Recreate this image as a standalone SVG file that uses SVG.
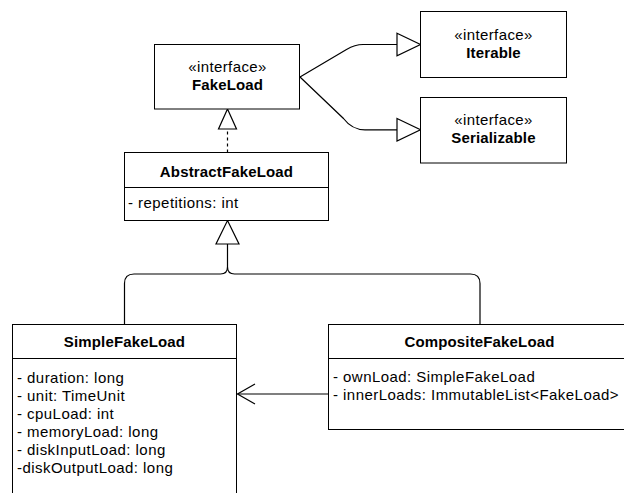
<svg xmlns="http://www.w3.org/2000/svg" width="624" height="493" viewBox="0 0 624 493">
  <style>
    .box { fill: #ffffff; stroke: #000000; stroke-width: 1; }
    .sep { stroke: #000000; stroke-width: 1; fill: none; }
    .edge { fill: none; stroke: #000000; stroke-width: 1.2; }
    .dash { fill: none; stroke: #000000; stroke-width: 1.2; stroke-dasharray: 3 3; }
    .tri { fill: #ffffff; stroke: #000000; stroke-width: 1.2; stroke-linejoin: miter; }
    text { font-family: "Liberation Sans", Arial, Helvetica, sans-serif; font-size: 15px; fill: #000000; }
    .c { text-anchor: middle; }
    .b { font-weight: bold; letter-spacing: 0.15px; }
    .st { letter-spacing: 0.4px; }
    .attr { letter-spacing: 0.45px; }
  </style>
  <rect x="0" y="0" width="624" height="493" fill="#ffffff"/>

  <g id="connectors">
    <!-- FakeLoad -> Iterable -->
    <path class="edge" d="M300,77 L346.5,49.5 Q355,44.5 363,44.5 H397"/>
    <polygon class="tri" points="397,33.3 420.5,44.5 397,55.7"/>
    <!-- FakeLoad -> Serializable -->
    <path class="edge" d="M300,77 L343.5,118.5 Q352,129.8 365,129.8 H397"/>
    <polygon class="tri" points="397,118.5 420.5,129.8 397,141"/>
    <!-- AbstractFakeLoad realizes FakeLoad -->
    <path class="dash" d="M227.5,152.5 V129"/>
    <polygon class="tri" points="227.5,109 236.5,129 218.5,129"/>
    <!-- Inheritance to AbstractFakeLoad -->
    <path class="edge" d="M227.5,244 V267 Q227.5,274 220.5,274 H134 Q124.5,274 124.5,283.5 V324.5"/>
    <path class="edge" d="M227.5,267 Q227.5,274 234.5,274 H470.5 Q480,274 480,283.5 V324.5"/>
    <polygon class="tri" points="227.5,220.5 239,244 216,244"/>
    <!-- Composite -> Simple association -->
    <path class="edge" d="M328.5,394 H237.5"/>
    <path class="edge" d="M255,384 L237.5,394 L255,404"/>
  </g>

  <g id="FakeLoad">
    <rect class="box" x="154.5" y="44.5" width="145" height="64.5"/>
    <text class="c st" x="227.5" y="72">«interface»</text>
    <text class="c b" x="227.5" y="90">FakeLoad</text>
  </g>

  <g id="Iterable">
    <rect class="box" x="420.5" y="11.5" width="146" height="66"/>
    <text class="c st" x="493.5" y="40">«interface»</text>
    <text class="c b" x="493.5" y="58">Iterable</text>
  </g>

  <g id="Serializable">
    <rect class="box" x="420.5" y="97.5" width="146" height="65.5"/>
    <text class="c st" x="493.5" y="125">«interface»</text>
    <text class="c b" x="493.5" y="143">Serializable</text>
  </g>

  <g id="AbstractFakeLoad">
    <rect class="box" x="124.5" y="152.5" width="204" height="68"/>
    <line class="sep" x1="124.5" y1="187.5" x2="328.5" y2="187.5"/>
    <text class="c b" x="226.5" y="177">AbstractFakeLoad</text>
    <text class="attr" x="128" y="208">- repetitions: int</text>
  </g>

  <g id="SimpleFakeLoad">
    <rect class="box" x="12.5" y="324.5" width="224" height="200"/>
    <line class="sep" x1="12.5" y1="358.5" x2="236.5" y2="358.5"/>
    <text class="c b" x="124.5" y="347">SimpleFakeLoad</text>
    <text class="attr" x="17" y="382.5">- duration: long</text>
    <text class="attr" x="17" y="400.5">- unit: TimeUnit</text>
    <text class="attr" x="17" y="418.5">- cpuLoad: int</text>
    <text class="attr" x="17" y="436.5">- memoryLoad: long</text>
    <text class="attr" x="17" y="454.5">- diskInputLoad: long</text>
    <text class="attr" x="17" y="472.5">-diskOutputLoad: long</text>
  </g>

  <g id="CompositeFakeLoad">
    <rect class="box" x="328.5" y="324.5" width="310" height="105"/>
    <line class="sep" x1="328.5" y1="358.5" x2="638" y2="358.5"/>
    <text class="c b" x="479.5" y="347">CompositeFakeLoad</text>
    <text class="attr" x="333" y="382">- ownLoad: SimpleFakeLoad</text>
    <text class="attr" x="333" y="400">- innerLoads: ImmutableList&lt;FakeLoad&gt;</text>
  </g>
</svg>
